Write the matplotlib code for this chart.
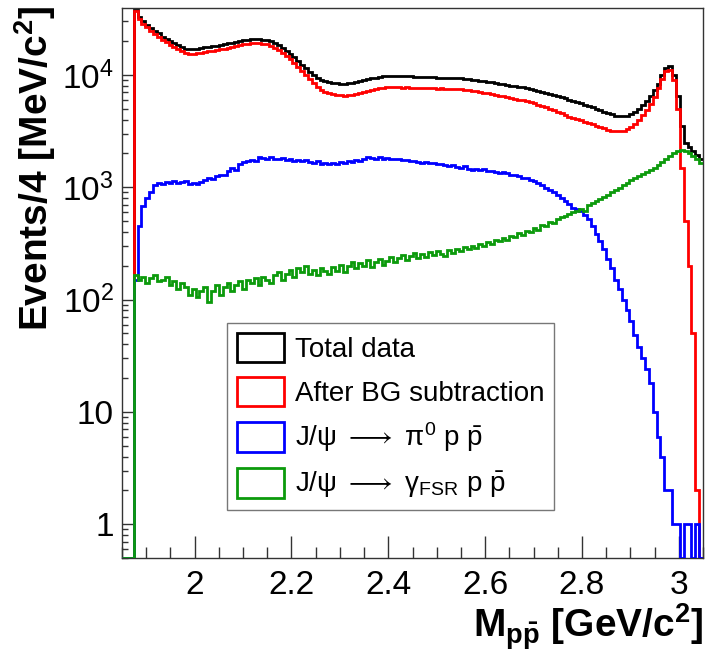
import numpy as np
import matplotlib
matplotlib.use("Agg")
import matplotlib.pyplot as plt
from matplotlib.patches import Patch
from matplotlib.ticker import (FixedLocator, FixedFormatter, LogLocator, MultipleLocator,
                               NullFormatter, FormatStrFormatter)

plt.rcParams['font.family'] = ['Liberation Sans', 'DejaVu Sans']
plt.rcParams['mathtext.fontset'] = 'custom'
plt.rcParams['mathtext.rm'] = 'Liberation Sans'
plt.rcParams['mathtext.it'] = 'Liberation Sans:italic'
plt.rcParams['mathtext.bf'] = 'Liberation Sans:bold'
plt.rcParams['mathtext.fallback'] = 'stixsans'

# M(p pbar) histogram, 8 MeV bins from 1.85 to 3.05 GeV/c^2 (values in events / 4 MeV)
edges = np.round(np.linspace(1.85, 3.05, 151), 3)

total = [
    0, 0, 0, 38000, 33000, 30000, 28000, 26000, 24500, 23500,
    22000, 21000, 20000, 19300, 18600, 17800, 17200, 17000, 17100, 17200,
    17400, 17600, 17800, 18000, 18200, 18500, 18800, 19100, 19400, 19700,
    20000, 20300, 20600, 20800, 20900, 20900, 20700, 20400, 19900, 19200,
    18400, 17500, 16500, 15500, 14400, 13400, 12400, 11500, 10700, 10000,
    9500, 9100, 8800, 8600, 8500, 8450, 8400, 8400, 8450, 8550,
    8700, 8850, 9000, 9200, 9350, 9500, 9600, 9700, 9750, 9800,
    9800, 9800, 9750, 9700, 9700, 9650, 9650, 9600, 9600, 9550,
    9550, 9500, 9500, 9450, 9450, 9400, 9400, 9350, 9300, 9200,
    9100, 9000, 8900, 8800, 8700, 8600, 8500, 8400, 8300, 8150,
    8050, 7950, 7850, 7750, 7650, 7550, 7400, 7250, 7100, 6950,
    6800, 6650, 6500, 6350, 6200, 6050, 5900, 5750, 5600, 5450,
    5300, 5150, 5000, 4850, 4700, 4600, 4450, 4350, 4300, 4300,
    4350, 4450, 4650, 4950, 5400, 5900, 6500, 7300, 8400, 9900,
    11500, 12000, 10000, 6500, 3500, 2500, 2300, 2100, 1950, 1800,
]

bg_sub = [
    0, 0, 0, 37000, 31500, 28500, 26500, 24500, 23000, 22000,
    20500, 19500, 18500, 17800, 17000, 16200, 15600, 15400, 15500, 15600,
    15800, 16000, 16200, 16400, 16600, 16900, 17200, 17500, 17800, 18100,
    18400, 18700, 19000, 19200, 19300, 19200, 19000, 18700, 18200, 17500,
    16700, 15800, 14800, 13800, 12800, 11800, 10900, 10000, 9200, 8500,
    7900, 7400, 7100, 6900, 6750, 6650, 6600, 6550, 6600, 6650,
    6750, 6900, 7050, 7200, 7350, 7500, 7600, 7700, 7750, 7800,
    7800, 7750, 7700, 7750, 7700, 7650, 7700, 7650, 7600, 7650,
    7600, 7550, 7600, 7550, 7500, 7550, 7500, 7450, 7400, 7300,
    7200, 7150, 7050, 6950, 6850, 6750, 6650, 6550, 6450, 6350,
    6250, 6150, 6050, 5950, 5850, 5750, 5600, 5450, 5300, 5150,
    5000, 4850, 4700, 4550, 4400, 4250, 4150, 4050, 3950, 3850,
    3750, 3650, 3550, 3450, 3350, 3250, 3200, 3150, 3150, 3200,
    3300, 3450, 3650, 3950, 4400, 4900, 5500, 6400, 7600, 9200,
    10900, 11000, 9000, 5000, 1500, 500, 200, 50, 2, 0,
]

pi0_ppbar = [
    0, 0, 0, 150, 450, 680, 800, 900, 1050, 1100,
    1080, 1120, 1100, 1130, 1090, 1110, 1140, 1070, 1100, 1060,
    1120, 1150, 1200, 1180, 1260, 1300, 1280, 1400, 1480, 1440,
    1600, 1680, 1700, 1750, 1730, 1860, 1820, 1790, 1850, 1800,
    1770, 1830, 1760, 1800, 1720, 1760, 1700, 1740, 1690, 1650,
    1700, 1620, 1660, 1600, 1630, 1620, 1680, 1650, 1700, 1690,
    1760, 1720, 1800, 1880, 1820, 1790, 1850, 1800, 1830, 1770,
    1800, 1790, 1740, 1760, 1700, 1720, 1680, 1650, 1690, 1640,
    1660, 1600, 1620, 1570, 1560, 1590, 1510, 1500, 1540, 1470,
    1440, 1470, 1420, 1450, 1390, 1410, 1380, 1340, 1370, 1330,
    1300, 1280, 1260, 1220, 1200, 1170, 1130, 1090, 1040, 990,
    950, 900, 850, 800, 760, 710, 660, 640, 610, 570,
    520, 450, 380, 330, 280, 230, 190, 150, 125, 100,
    80, 65, 48, 38, 30, 24, 18, 10, 6, 4,
    2, 2, 1, 1, 0, 1, 1, 0, 1, 0,
]

fsr_ppbar = [
    0, 0, 0, 165, 150, 160, 140, 155, 165, 145,
    150, 160, 135, 145, 125, 140, 130, 110, 125, 105,
    120, 130, 95, 120, 135, 110, 130, 140, 120, 135,
    145, 125, 150, 140, 155, 135, 160, 150, 140, 165,
    175, 150, 170, 185, 160, 190, 175, 200, 170, 185,
    165, 190, 180, 170, 195, 180, 205, 175, 200, 215,
    190, 210, 200, 225, 195, 215, 230, 205, 220, 240,
    215, 235, 250, 225, 245, 260, 235, 255, 240, 265,
    250, 270, 255, 245, 275, 260, 285, 270, 295, 280,
    300, 290, 315, 300, 325, 310, 340, 330, 355, 340,
    370, 360, 390, 375, 410, 400, 435, 420, 460, 455,
    490, 480, 520, 540, 560, 575, 600, 610, 640, 620,
    690, 720, 750, 790, 820, 860, 900, 950, 990, 1050,
    1090, 1150, 1200, 1260, 1310, 1370, 1430, 1500, 1580, 1680,
    1780, 1900, 2000, 2100, 2150, 2100, 2000, 1900, 1780, 1660,
]

labels = [
    'Total data',
    'After BG subtraction',
    r'J/ψ ${\longrightarrow}$ $\mathrm{\pi}^{0}$ p $\bar{\mathrm{p}}$',
    r'J/ψ ${\longrightarrow}$ $\mathrm{\gamma}_{\mathrm{FSR}}$ p $\bar{\mathrm{p}}$',
]
colors = ['black', '#ff0000', '#0000ff', '#0c9a0c']

ymin, ymax = 0.5, 3.95e4

fig = plt.figure(figsize=(7.14, 6.62), dpi=100)
ax = fig.add_axes([0.1709, 0.1571, 0.8137, 0.8308])

for vals, col, z in zip([total, bg_sub, pi0_ppbar, fsr_ppbar], colors, [2, 3, 4, 5]):
    # empty bins sit on the lower frame, like ROOT does on a log axis
    v = np.clip(np.array(vals, dtype=float), ymin, None)
    ax.stairs(v, edges, baseline=None, color=col, lw=2.0, zorder=z)

ax.set_yscale('log')
ax.set_xlim(1.85, 3.05)
ax.set_ylim(ymin, ymax)

ax.yaxis.set_major_locator(FixedLocator([1, 10, 100, 1000, 10000]))
ax.yaxis.set_major_formatter(FixedFormatter(['1', '10', r'$10^{2}$', r'$10^{3}$', r'$10^{4}$']))
ax.yaxis.set_minor_locator(LogLocator(base=10, subs=np.arange(2, 10)))
ax.yaxis.set_minor_formatter(NullFormatter())
ax.xaxis.set_major_locator(MultipleLocator(0.2))
ax.xaxis.set_major_formatter(FormatStrFormatter('%g'))
ax.xaxis.set_minor_locator(MultipleLocator(0.05))

ax.tick_params(axis='both', which='both', direction='in', color='#333333', width=1.0,
               top=False, right=False, labelsize=24)
ax.tick_params(axis='x', which='major', length=16, pad=9)
ax.tick_params(axis='x', which='minor', length=8)
ax.tick_params(axis='y', which='major', length=8, pad=6)
ax.tick_params(axis='y', which='minor', length=4.5)
for s in ax.spines.values():
    s.set_color('#333333')
    s.set_linewidth(1.0)

ax.set_xlabel(r'M$_{\mathbf{p\bar{p}}}$ [GeV/c$^{\mathbf{2}}$]', fontsize=28, fontweight='bold',
              loc='right', labelpad=0)
ax.set_ylabel(r'Events/4 [MeV/c$^{\mathbf{2}}$]', fontsize=28, fontweight='bold',
              loc='top')
ax.yaxis.set_label_coords(-0.11, 1.005)

handles = [Patch(facecolor='none', edgecolor=c, lw=2.0) for c in colors]
leg = ax.legend(handles, labels, loc='upper left', bbox_to_anchor=(0.318, 0.512),
                bbox_transform=fig.transFigure, fontsize=20, frameon=True,
                fancybox=False, edgecolor='#777777', framealpha=1,
                handlelength=1.7, handleheight=1.25, handletextpad=0.4,
                labelspacing=0.5, borderpad=0.35, borderaxespad=0)
leg.get_frame().set_linewidth(1.0)

fig.savefig('out.png', dpi=100)
